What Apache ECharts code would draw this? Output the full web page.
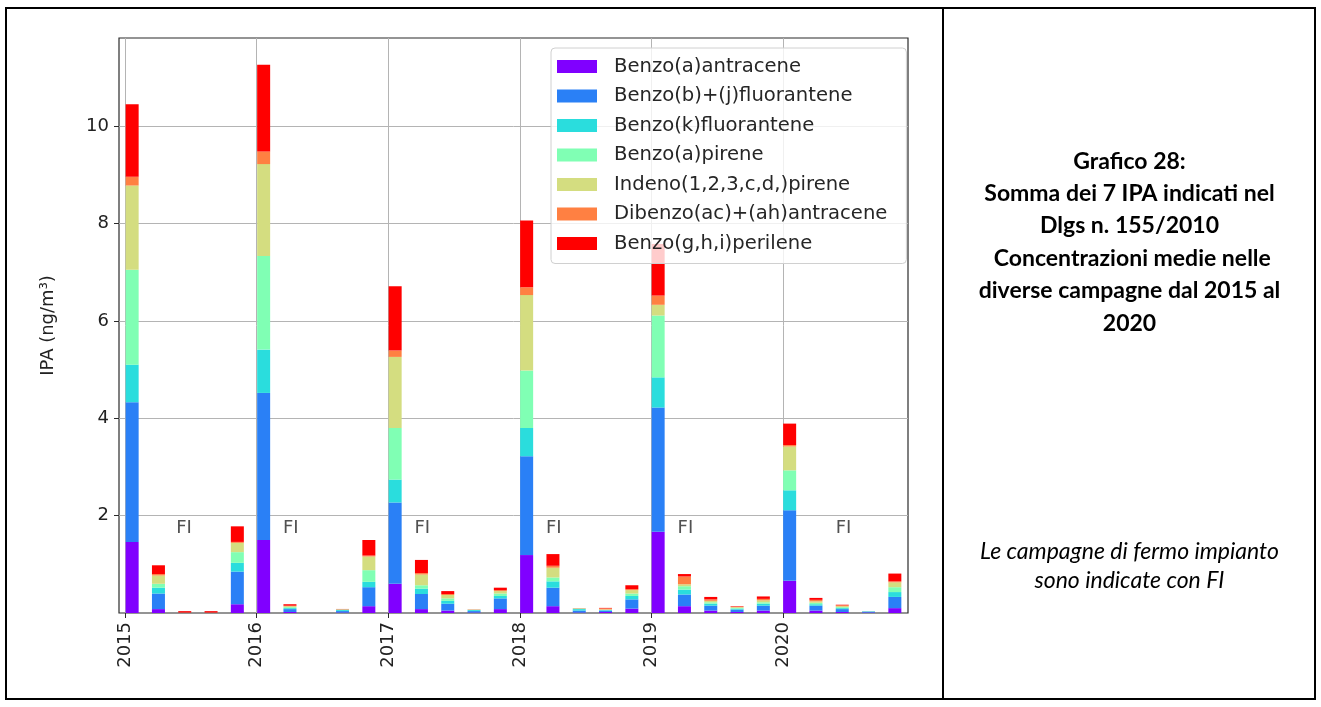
<!DOCTYPE html>
<html>
<head>
<meta charset="utf-8">
<script src="https://cdn.jsdelivr.net/npm/echarts@6/dist/echarts.min.js"></script>
<style>
  html, body { margin: 0; padding: 0; background: #ffffff; }
  #chart { width: 1321px; height: 707px; }
</style>
</head>
<body>
<div id="chart"></div>
<script>
// Year ticks on the date axis
const yearTicks = [2015, 2016, 2017, 2018, 2019, 2020];

// Sampling campaigns, evenly spaced (5 per year)
const campaignDates = [
  '2015-01-19', '2015-04-02', '2015-06-14', '2015-08-26', '2015-11-07',
  '2016-01-19', '2016-04-02', '2016-06-14', '2016-08-26', '2016-11-07',
  '2017-01-19', '2017-04-02', '2017-06-14', '2017-08-26', '2017-11-07',
  '2018-01-19', '2018-04-02', '2018-06-14', '2018-08-26', '2018-11-07',
  '2019-01-19', '2019-04-02', '2019-06-14', '2019-08-26', '2019-11-07',
  '2020-01-19', '2020-04-02', '2020-06-14', '2020-08-26', '2020-11-07'
];

// Mean concentrations (ng/m3) per compound and campaign
const benzoAAntracene = [
  1.46, 0.08, 0, 0, 0.18,
  1.50, 0.02, 0, 0.01, 0.14,
  0.60, 0.08, 0.05, 0.01, 0.08,
  1.19, 0.14, 0.01, 0.02, 0.09,
  1.67, 0.14, 0.05, 0.02, 0.05,
  0.66, 0.05, 0.02, 0.01, 0.10
];
const benzoBJFluorantene = [
  2.87, 0.32, 0.002, 0.002, 0.67,
  3.02, 0.06, 0, 0.03, 0.39,
  1.67, 0.31, 0.14, 0.03, 0.22,
  2.03, 0.38, 0.04, 0.03, 0.19,
  2.55, 0.24, 0.10, 0.05, 0.10,
  1.45, 0.10, 0.06, 0.02, 0.23
];
const benzoKFluorantene = [
  0.77, 0.12, 0.001, 0.001, 0.18,
  0.89, 0.02, 0, 0.02, 0.11,
  0.47, 0.11, 0.06, 0.02, 0.05,
  0.58, 0.13, 0.03, 0.01, 0.07,
  0.62, 0.10, 0.04, 0.02, 0.04,
  0.41, 0.03, 0.02, 0.005, 0.10
];
const benzoAPirene = [
  1.95, 0.08, 0.001, 0.001, 0.22,
  1.92, 0.02, 0, 0.01, 0.24,
  1.06, 0.07, 0.05, 0.005, 0.05,
  1.18, 0.08, 0.01, 0.005, 0.05,
  1.27, 0.07, 0.03, 0.015, 0.03,
  0.41, 0.03, 0.02, 0.003, 0.10
];
const indenoPirene = [
  1.73, 0.17, 0.002, 0.002, 0.19,
  1.89, 0.02, 0, 0.005, 0.28,
  1.46, 0.22, 0.07, 0.005, 0.05,
  1.55, 0.20, 0.005, 0.01, 0.07,
  0.22, 0.04, 0.03, 0.015, 0.04,
  0.49, 0.03, 0.02, 0.002, 0.10
];
const dibenzoAntracene = [
  0.18, 0.03, 0.002, 0.002, 0.02,
  0.26, 0.01, 0, 0.003, 0.02,
  0.13, 0.03, 0.02, 0.002, 0.02,
  0.16, 0.04, 0.002, 0.02, 0.02,
  0.19, 0.16, 0.03, 0.01, 0.03,
  0.03, 0.03, 0.02, 0, 0.02
];
const benzoGHIPerilene = [
  1.49, 0.18, 0.03, 0.03, 0.32,
  1.78, 0.03, 0, 0.005, 0.32,
  1.32, 0.27, 0.06, 0.003, 0.05,
  1.37, 0.24, 0.003, 0.01, 0.08,
  1.06, 0.05, 0.05, 0.01, 0.05,
  0.44, 0.04, 0.01, 0, 0.16
];

const compoundNames = [
  'Benzo(a)antracene',
  'Benzo(b)+(j)fluorantene',
  'Benzo(k)fluorantene',
  'Benzo(a)pirene',
  'Indeno(1,2,3,c,d,)pirene',
  'Dibenzo(ac)+(ah)antracene',
  'Benzo(g,h,i)perilene'
];
const compoundValues = [
  benzoAAntracene, benzoBJFluorantene, benzoKFluorantene, benzoAPirene,
  indenoPirene, dibenzoAntracene, benzoGHIPerilene
];
// rainbow colormap sampled at 7 steps
const compoundColors = ['#8000ff', '#2a80f6', '#2adddd', '#80ffb4', '#d4dd80', '#ff8042', '#ff0000'];

// "FI" marks: plant shutdown campaigns (date, height of the label)
const shutdownDates = ['2015-06-14', '2016-04-05', '2017-04-05', '2018-04-05', '2019-04-05', '2020-06-17'];
const shutdownY = [1.74, 1.74, 1.74, 1.74, 1.74, 1.74];

const titleLines = [
  'Grafico 28:',
  'Somma dei 7 IPA indicati nel',
  'Dlgs n. 155/2010',
  ' Concentrazioni medie nelle',
  'diverse campagne dal 2015 al',
  '2020'
];
const noteLines = ['Le campagne di fermo impianto', 'sono indicate con FI'];

// date string -> UTC timestamp
function toTime(s) {
  const p = s.split('-').map(Number);
  return Date.UTC(p[0], p[1] - 1, p[2]);
}
const yearTickTimes = yearTicks.map(y => Date.UTC(y, 0, 1));

const axisFont = 'DejaVu Sans';
const chart = echarts.init(document.getElementById('chart'), null, { renderer: 'canvas' });

// stacked bars sit on the (hidden) campaign axis
const barSeries = compoundNames.map((name, i) => ({
  name: name,
  type: 'bar',
  stack: 'ipa',
  barWidth: 13,
  xAxisIndex: 0,
  itemStyle: { color: compoundColors[i] },
  emphasis: { disabled: true },
  data: compoundValues[i]
}));

const fiSeries = {
  name: 'FI',
  type: 'scatter',
  xAxisIndex: 1,
  symbolSize: 0,
  silent: true,
  label: {
    show: true,
    position: 'inside',
    formatter: 'FI',
    fontFamily: axisFont,
    fontSize: 18,
    color: '#262626'
  },
  data: shutdownDates.map((d, i) => [toTime(d), shutdownY[i]]),
  z: 5
};

chart.setOption({
  animation: false,
  backgroundColor: '#ffffff',
  grid: {
    left: 119, top: 38, width: 789, height: 575,
    show: true, borderColor: '#2b2b2b', borderWidth: 1.2, backgroundColor: 'transparent'
  },
  legend: {
    orient: 'vertical',
    left: 551, top: 48,
    icon: 'rect',
    itemWidth: 40, itemHeight: 13, itemGap: 7.5,
    padding: [7.5, 19, 9, 6],
    backgroundColor: 'rgba(255,255,255,0.8)',
    borderColor: '#d0d0d0', borderWidth: 1, borderRadius: 4,
    selectedMode: false,
    data: compoundNames,
    textStyle: {
      fontFamily: axisFont, fontSize: 19.6, color: '#262626', lineHeight: 22,
      padding: [0, 0, 0, 12]
    }
  },
  xAxis: [
    {
      // one band per campaign
      type: 'category',
      data: campaignDates,
      boundaryGap: true,
      axisLine: { show: false },
      axisTick: { show: false },
      axisLabel: { show: false },
      splitLine: { show: false }
    },
    {
      // calendar axis: year ticks, labels and grid lines
      type: 'value',
      position: 'bottom',
      min: Date.UTC(2014, 11, 15, 10),
      max: Date.UTC(2020, 11, 12, 17),
      axisLine: { show: false },
      axisTick: { show: true, customValues: yearTickTimes, length: 5, lineStyle: { color: '#2b2b2b' } },
      axisLabel: {
        customValues: yearTickTimes, rotate: 90, margin: 9,
        fontFamily: axisFont, fontSize: 18, color: '#222222',
        formatter: v => String(new Date(v).getUTCFullYear())
      },
      splitLine: { show: true, lineStyle: { color: '#b4b4b4', width: 1 } }
    }
  ],
  yAxis: {
    type: 'value',
    min: 0, max: 11.81,
    name: 'IPA (ng/m³)',
    nameLocation: 'middle',
    nameGap: 62,
    nameTextStyle: { fontFamily: axisFont, fontSize: 18, color: '#222222' },
    axisLine: { show: false },
    axisTick: { show: true, customValues: [2, 4, 6, 8, 10], length: 5, lineStyle: { color: '#2b2b2b' } },
    axisLabel: {
      customValues: [2, 4, 6, 8, 10], margin: 10,
      fontFamily: axisFont, fontSize: 18, color: '#222222'
    },
    splitLine: { show: true, lineStyle: { color: '#b4b4b4', width: 1 } }
  },
  series: barSeries.concat([fiSeries]),
  graphic: [
    {
      type: 'rect', silent: true, z: 100,
      shape: { x: 6, y: 8, width: 1309, height: 691 },
      style: { fill: 'none', stroke: '#000000', lineWidth: 2 }
    },
    {
      type: 'line', silent: true, z: 100,
      shape: { x1: 943, y1: 8, x2: 943, y2: 699 },
      style: { stroke: '#000000', lineWidth: 2 }
    },
    {
      type: 'text', silent: true, z: 100,
      x: 1129.5, y: 145,
      style: {
        text: titleLines.join('\n'),
        align: 'center', verticalAlign: 'top',
        fontFamily: 'Lato', fontWeight: 'bold', fontSize: 23, lineHeight: 32.4,
        fill: '#000000'
      }
    },
    {
      type: 'text', silent: true, z: 100,
      x: 1129.5, y: 537,
      style: {
        text: noteLines.join('\n'),
        align: 'center', verticalAlign: 'top',
        fontFamily: 'Lato', fontStyle: 'italic', fontSize: 23, lineHeight: 29,
        fill: '#000000'
      }
    }
  ]
});
</script>
</body>
</html>
